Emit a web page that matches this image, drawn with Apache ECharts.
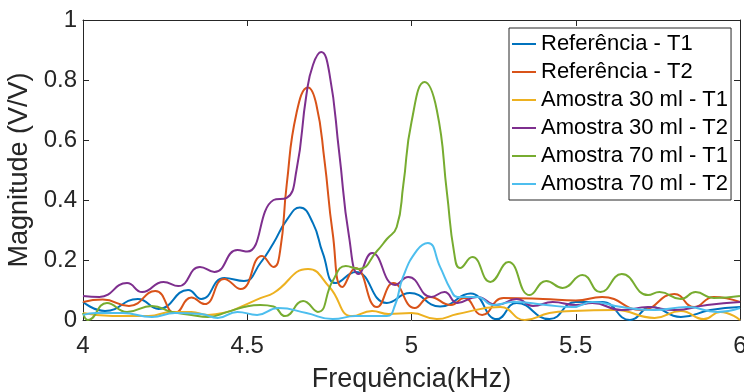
<!DOCTYPE html>
<html>
<head>
<meta charset="utf-8">
<script src="https://cdn.jsdelivr.net/npm/echarts/dist/echarts.min.js"></script>
<style>
html,body{margin:0;padding:0;background:#fff;}
#chart{width:744px;height:392px;}
</style>
</head>
<body>
<div id="chart"></div>
<script>
// ---- Data (frequency in kHz, magnitude in V/V) ----
const seriesNames = ["Referência - T1","Referência - T2","Amostra 30 ml - T1","Amostra 30 ml - T2","Amostra 70 ml - T1","Amostra 70 ml - T2"];
const xTicks = [4, 4.5, 5, 5.5, 6];
const yTicks = [0, 0.2, 0.4, 0.6, 0.8, 1];

const refT1_x = [4.00,4.067,4.167,4.23,4.32,4.36,4.43,4.49,4.54,4.58,4.62,4.66,4.70,4.73,4.77,4.83,4.925,4.995,5.087,5.18,5.26,5.32,5.42,5.50,5.58,5.665,5.73,5.82,5.91,6.0];
const refT1_y = [0.06,0.03,0.07,0.037,0.10,0.07,0.14,0.13,0.19,0.257,0.333,0.375,0.323,0.223,0.123,0.16,0.057,0.09,0.045,0.088,0.003,0.057,0.003,0.06,0.06,0.0,0.043,0.01,0.033,0.043];

const refT2_x = [4.00,4.06,4.14,4.22,4.28,4.33,4.37,4.43,4.48,4.545,4.58,4.60,4.62,4.65,4.685,4.71,4.735,4.76,4.79,4.83,4.895,4.945,5.01,5.056,5.12,5.16,5.215,5.28,5.40,5.50,5.58,5.70,5.80,5.86,5.92,6.0];
const refT2_y = [0.06,0.068,0.047,0.097,0.023,0.075,0.053,0.137,0.103,0.213,0.177,0.23,0.45,0.69,0.775,0.72,0.533,0.29,0.11,0.173,0.043,0.123,0.04,0.077,0.05,0.073,0.017,0.073,0.07,0.065,0.077,0.033,0.087,0.043,0.077,0.06];

const a30T1_x = [4.00,4.09,4.20,4.27,4.33,4.38,4.44,4.478,4.54,4.58,4.685,4.75,4.82,4.88,4.93,5.0,5.077,5.14,5.27,5.345,5.42,5.49,5.62,5.74,5.82,5.89,5.94,6.0];
const a30T1_y = [0.023,0.013,0.013,0.027,0.027,0.017,0.027,0.043,0.073,0.09,0.17,0.11,0.013,0.03,0.02,0.023,0.003,0.02,0.043,0.0,0.023,0.03,0.033,0.007,0.03,0.003,0.027,0.0];

const a30T2_x = [4.00,4.05,4.134,4.18,4.245,4.29,4.356,4.40,4.47,4.50,4.58,4.62,4.65,4.68,4.70,4.725,4.75,4.78,4.81,4.84,4.88,4.95,4.99,5.06,5.10,5.14,5.20,5.26,5.32,5.37,5.43,5.50,5.55,5.64,5.72,5.80,5.90,6.0];
const a30T2_y = [0.08,0.077,0.123,0.093,0.127,0.113,0.177,0.16,0.233,0.228,0.40,0.407,0.50,0.75,0.85,0.893,0.823,0.557,0.277,0.153,0.223,0.117,0.143,0.077,0.093,0.057,0.077,0.05,0.07,0.047,0.06,0.05,0.057,0.033,0.043,0.033,0.05,0.06];

const a70T1_x = [4.00,4.015,4.073,4.134,4.21,4.27,4.33,4.38,4.44,4.49,4.54,4.58,4.615,4.67,4.715,4.76,4.80,4.84,4.895,4.925,4.955,4.975,5.0,5.04,5.077,5.108,5.13,5.148,5.185,5.24,5.295,5.36,5.41,5.46,5.52,5.575,5.64,5.72,5.755,5.82,5.865,5.92,6.0];
const a70T1_y = [0.023,0.0,0.057,0.027,0.047,0.027,0.017,0.01,0.027,0.043,0.05,0.045,0.013,0.063,0.027,0.13,0.18,0.17,0.23,0.27,0.31,0.45,0.66,0.793,0.70,0.423,0.223,0.173,0.21,0.127,0.193,0.083,0.13,0.107,0.15,0.093,0.153,0.083,0.093,0.07,0.093,0.073,0.08];

const a70T2_x = [4.00,4.04,4.12,4.21,4.28,4.36,4.41,4.47,4.53,4.595,4.68,4.76,4.83,4.925,4.95,4.974,5.017,5.05,5.087,5.12,5.14,5.20,5.25,5.31,5.41,5.49,5.55,5.64,5.74,5.84,5.93,6.0];
const a70T2_y = [0.017,0.023,0.023,0.01,0.023,0.02,0.007,0.027,0.017,0.04,0.023,0.003,0.013,0.013,0.05,0.143,0.233,0.257,0.177,0.10,0.077,0.077,0.05,0.06,0.05,0.043,0.06,0.043,0.033,0.043,0.027,0.04];

const colors = ["#0072BD","#D95319","#EDB120","#7E2F8E","#77AC30","#4DBEEE"];
const xs = [refT1_x, refT2_x, a30T1_x, a30T2_x, a70T1_x, a70T2_x];
const ys = [refT1_y, refT2_y, a30T1_y, a30T2_y, a70T1_y, a70T2_y];

const zip = (a, b) => a.map((v, i) => [v, b[i]]);
const FONT = "Liberation Sans, Arial, Helvetica, sans-serif";
const AX = "#262626";

const chart = echarts.init(document.getElementById('chart'), null, {renderer: 'canvas'});
const series = seriesNames.map((n, i) => ({
  name: n,
  type: 'line',
  data: zip(xs[i], ys[i]),
  smooth: 0.5,
  symbol: 'none',
  showSymbol: false,
  lineStyle: {width: 2, color: colors[i]},
  itemStyle: {color: colors[i]},
  xAxisIndex: 0,
  yAxisIndex: 0,
  z: 2 + i,
  clip: true
}));

const option = {
  animation: false,
  backgroundColor: '#ffffff',
  textStyle: {fontFamily: FONT},
  grid: {left: 83, right: 4, top: 20, bottom: 72, containLabel: false, outerBoundsMode: 'none'},
  legend: {
    orient: 'vertical',
    left: 509, top: 28,
    padding: [5, 3, 5, 3],
    itemGap: 6,
    itemWidth: 24,
    itemHeight: 14,
    itemTextGap: 4,
    borderColor: AX,
    borderWidth: 1,
    backgroundColor: '#fff',
    textStyle: {fontSize: 22, lineHeight: 22, color: '#000', fontFamily: FONT, padding: 0},
    data: seriesNames.map((n, i) => ({name: n, icon: 'path://M0,0L24,0L24,2L0,2Z', itemStyle: {color: colors[i]}}))
  },
  xAxis: [{
    type: 'value', min: xTicks[0], max: xTicks[xTicks.length-1], interval: 0.5,
    position: 'bottom',
    name: 'Frequência(kHz)', nameLocation: 'middle', nameGap: 46,
    nameTextStyle: {fontSize: 27, color: AX, fontFamily: FONT},
    axisLine: {show: true, onZero: false, lineStyle: {color: AX, width: 1}},
    axisTick: {show: true, inside: true, length: 6, lineStyle: {color: AX}},
    axisLabel: {fontSize: 24, color: AX, margin: 14, fontFamily: FONT},
    splitLine: {show: false}
  },{
    type: 'value', min: xTicks[0], max: xTicks[xTicks.length-1], interval: 0.5,
    position: 'top',
    axisLine: {show: true, onZero: false, lineStyle: {color: AX, width: 1}},
    axisTick: {show: true, inside: true, length: 6, lineStyle: {color: AX}},
    axisLabel: {show: false},
    splitLine: {show: false}
  }],
  yAxis: [{
    type: 'value', min: yTicks[0], max: yTicks[yTicks.length-1], interval: 0.2,
    position: 'left',
    name: 'Magnitude (V/V)', nameLocation: 'middle', nameGap: 47,
    nameTextStyle: {fontSize: 27, color: AX, fontFamily: FONT},
    axisLine: {show: true, onZero: false, lineStyle: {color: AX, width: 1}},
    axisTick: {show: true, inside: true, length: 6, lineStyle: {color: AX}},
    axisLabel: {fontSize: 24, color: AX, margin: 6, fontFamily: FONT},
    splitLine: {show: false}
  },{
    type: 'value', min: yTicks[0], max: yTicks[yTicks.length-1], interval: 0.2,
    position: 'right',
    axisLine: {show: true, onZero: false, lineStyle: {color: AX, width: 1}},
    axisTick: {show: true, inside: true, length: 6, lineStyle: {color: AX}},
    axisLabel: {show: false},
    splitLine: {show: false}
  }],
  series: series
};
chart.setOption(option);
</script>
</body>
</html>
